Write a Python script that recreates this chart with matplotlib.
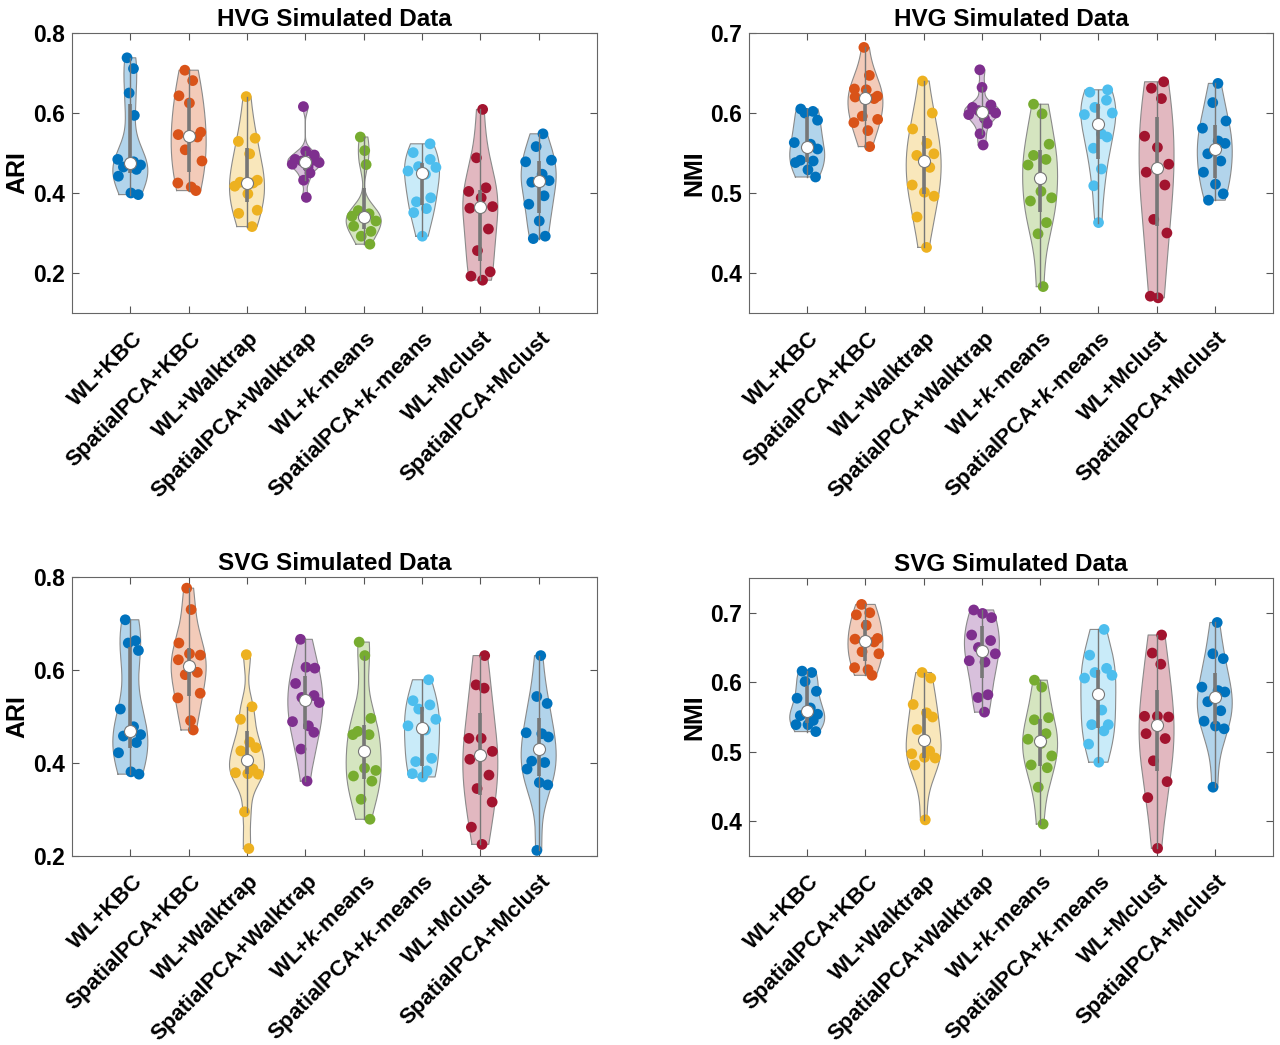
import numpy as np
import matplotlib
matplotlib.use("Agg")
import matplotlib.pyplot as plt
from matplotlib.transforms import ScaledTranslation

plt.rcParams["font.family"] = ["Liberation Sans", "DejaVu Sans"]
plt.rcParams["font.weight"] = "bold"
plt.rcParams["mathtext.fontset"] = "custom"
plt.rcParams["mathtext.bfit"] = "Liberation Sans:bold:italic"
plt.rcParams["mathtext.bf"] = "Liberation Sans:bold"

methods = ["WL+KBC", "SpatialPCA+KBC", "WL+Walktrap", "SpatialPCA+Walktrap",
           r"WL+$\mathbfit{k}$-means", r"SpatialPCA+$\mathbfit{k}$-means",
           "WL+Mclust", "SpatialPCA+Mclust"]
colors = ["#0072BD", "#D95319", "#EDB120", "#7E2F8E",
          "#77AC30", "#4DBEEE", "#A2142F", "#0072BD"]

# values, one list per method
ari_hvg = [
    [0.738, 0.711, 0.650, 0.594, 0.484, 0.478, 0.470, 0.465, 0.459, 0.442, 0.400, 0.396],
    [0.707, 0.681, 0.643, 0.625, 0.552, 0.546, 0.540, 0.508, 0.480, 0.425, 0.415, 0.406],
    [0.641, 0.537, 0.529, 0.498, 0.432, 0.427, 0.425, 0.417, 0.398, 0.357, 0.349, 0.316],
    [0.616, 0.504, 0.495, 0.484, 0.482, 0.480, 0.476, 0.472, 0.465, 0.450, 0.432, 0.389],
    [0.540, 0.506, 0.471, 0.356, 0.348, 0.342, 0.338, 0.330, 0.317, 0.304, 0.292, 0.272],
    [0.523, 0.501, 0.484, 0.466, 0.464, 0.455, 0.447, 0.388, 0.378, 0.361, 0.351, 0.292],
    [0.609, 0.488, 0.413, 0.404, 0.388, 0.366, 0.362, 0.310, 0.256, 0.203, 0.192, 0.182],
    [0.548, 0.516, 0.482, 0.478, 0.447, 0.431, 0.427, 0.393, 0.372, 0.330, 0.292, 0.286],
]
nmi_hvg = [
    [0.605, 0.602, 0.600, 0.591, 0.563, 0.561, 0.555, 0.541, 0.540, 0.538, 0.529, 0.520],
    [0.682, 0.647, 0.630, 0.629, 0.621, 0.620, 0.618, 0.596, 0.592, 0.588, 0.578, 0.558],
    [0.640, 0.600, 0.580, 0.562, 0.549, 0.547, 0.532, 0.510, 0.501, 0.496, 0.470, 0.432],
    [0.654, 0.632, 0.610, 0.607, 0.605, 0.603, 0.600, 0.598, 0.593, 0.587, 0.574, 0.560],
    [0.611, 0.599, 0.561, 0.547, 0.542, 0.535, 0.502, 0.494, 0.490, 0.463, 0.449, 0.383],
    [0.629, 0.626, 0.616, 0.607, 0.600, 0.598, 0.574, 0.570, 0.556, 0.530, 0.509, 0.463],
    [0.639, 0.631, 0.618, 0.571, 0.557, 0.536, 0.526, 0.510, 0.467, 0.450, 0.371, 0.369],
    [0.637, 0.613, 0.590, 0.581, 0.565, 0.562, 0.549, 0.540, 0.526, 0.511, 0.499, 0.491],
]
ari_svg = [
    [0.708, 0.663, 0.658, 0.642, 0.516, 0.478, 0.461, 0.458, 0.444, 0.422, 0.381, 0.376],
    [0.776, 0.730, 0.658, 0.635, 0.632, 0.622, 0.595, 0.590, 0.550, 0.540, 0.491, 0.471],
    [0.633, 0.521, 0.494, 0.445, 0.433, 0.426, 0.387, 0.379, 0.377, 0.376, 0.295, 0.216],
    [0.666, 0.606, 0.604, 0.571, 0.545, 0.541, 0.530, 0.489, 0.480, 0.466, 0.430, 0.361],
    [0.660, 0.631, 0.496, 0.468, 0.461, 0.461, 0.389, 0.384, 0.372, 0.361, 0.322, 0.279],
    [0.579, 0.534, 0.525, 0.516, 0.494, 0.480, 0.471, 0.410, 0.403, 0.383, 0.377, 0.370],
    [0.631, 0.568, 0.561, 0.453, 0.453, 0.425, 0.408, 0.374, 0.345, 0.316, 0.262, 0.225],
    [0.631, 0.543, 0.528, 0.465, 0.463, 0.456, 0.404, 0.401, 0.387, 0.358, 0.353, 0.212],
]
nmi_svg = [
    [0.616, 0.614, 0.601, 0.587, 0.577, 0.563, 0.554, 0.552, 0.545, 0.539, 0.539, 0.529],
    [0.712, 0.700, 0.697, 0.682, 0.663, 0.662, 0.658, 0.644, 0.641, 0.621, 0.618, 0.610],
    [0.614, 0.606, 0.568, 0.556, 0.550, 0.532, 0.501, 0.497, 0.492, 0.491, 0.481, 0.402],
    [0.704, 0.699, 0.693, 0.668, 0.660, 0.650, 0.641, 0.631, 0.629, 0.582, 0.578, 0.557],
    [0.603, 0.593, 0.549, 0.546, 0.526, 0.518, 0.512, 0.494, 0.481, 0.477, 0.449, 0.396],
    [0.676, 0.639, 0.620, 0.614, 0.610, 0.606, 0.560, 0.539, 0.539, 0.530, 0.511, 0.485],
    [0.668, 0.642, 0.626, 0.551, 0.551, 0.550, 0.526, 0.519, 0.487, 0.457, 0.434, 0.361],
    [0.686, 0.641, 0.634, 0.593, 0.588, 0.586, 0.572, 0.559, 0.544, 0.537, 0.533, 0.449],
]

panels = [
    (ari_hvg, "HVG Simulated Data", "ARI", (0.1, 0.8), [0.2, 0.4, 0.6, 0.8]),
    (nmi_hvg, "HVG Simulated Data", "NMI", (0.35, 0.7), [0.4, 0.5, 0.6, 0.7]),
    (ari_svg, "SVG Simulated Data", "ARI", (0.2, 0.8), [0.2, 0.4, 0.6, 0.8]),
    (nmi_svg, "SVG Simulated Data", "NMI", (0.35, 0.75), [0.4, 0.5, 0.6, 0.7]),
]

# fixed jitter pattern (fraction of local violin half-width)
JIT = np.array([-0.6, 0.5, -0.2, 0.8, -0.8, 0.2, 0.6, -0.4, 0.35, -0.7, 0.05, 0.7])
WIDTH = 0.3
GREY = "#8a8a8a"


def ksdens(x, grid):
    """MATLAB ksdensity default (normal kernel, robust Silverman bandwidth)."""
    n = len(x)
    sig = np.median(np.abs(x - np.median(x))) / 0.6745
    if sig <= 0:
        sig = np.std(x)
    bw = sig * (4 / (3 * n)) ** 0.2
    z = (grid[:, None] - x[None, :]) / bw
    return np.exp(-0.5 * z ** 2).sum(axis=1) / (n * bw * np.sqrt(2 * np.pi))


def violin(ax, pos, data, color, k):
    d = np.asarray(data, float)
    yy = np.linspace(d.min(), d.max(), 200)
    dens = ksdens(d, yy)
    hw = dens / dens.max() * WIDTH
    ax.fill_betweenx(yy, pos - hw, pos + hw, facecolor=color, alpha=0.3, lw=0, zorder=1)
    ax.plot(np.r_[pos - hw, (pos + hw)[::-1], pos - hw[0]], np.r_[yy, yy[::-1], yy[0]],
            color=GREY, lw=0.8, zorder=2)
    # data points, spread inside the violin
    jit = np.roll(JIT, k * 5)[:len(d)]
    xs = pos + jit * np.interp(d, yy, hw)
    ax.scatter(xs, d, s=60, color=color, edgecolors="none", zorder=3)
    # box: IQR bar + whiskers + median
    q1, med, q3 = np.quantile(d, [0.25, 0.5, 0.75], method="hazen")
    iqr = q3 - q1
    lo = d[d >= q1 - 1.5 * iqr].min()
    hi = d[d <= q3 + 1.5 * iqr].max()
    ax.plot([pos, pos], [lo, hi], color="#777777", lw=1.0, zorder=4)
    ax.plot([pos, pos], [q1, q3], color="#777777", lw=2.6, solid_capstyle="butt", zorder=4)
    ax.scatter([pos], [med], s=75, color="white", edgecolors="#777777", linewidths=0.8, zorder=5)


fig = plt.figure(figsize=(12.8, 10.45), dpi=100)
W, H = 1280, 1045
boxes = [(72, 33, 597, 313), (749, 33, 1273, 313), (72, 577, 597, 856), (749, 578, 1273, 856)]
shift = ScaledTranslation(9 / 100, 0, fig.dpi_scale_trans)

for (data, title, ylab, ylim, yt), (l, t, r, b) in zip(panels, boxes):
    ax = fig.add_axes([l / W, 1 - b / H, (r - l) / W, (b - t) / H])
    for k, (vals, c) in enumerate(zip(data, colors)):
        violin(ax, k + 1, vals, c, k)
    ax.set_xlim(0, 9)
    ax.set_ylim(*ylim)
    ax.set_yticks(yt)
    ax.set_yticklabels([f"{v:.1f}" for v in yt], fontsize=16.5, fontweight="bold")
    ax.set_xticks(range(1, 9))
    ax.tick_params(direction="in", length=5, width=0.8, color="#555555",
                   top=True, right=True, pad=5)
    ax.tick_params(axis="x", pad=16)
    ax.set_xticklabels(methods, rotation=45, ha="right", va="center", rotation_mode="anchor",
                       fontsize=16, fontweight="bold")
    for lab in ax.get_xticklabels():
        lab.set_transform(lab.get_transform() + shift)
    for s in ax.spines.values():
        s.set_color("#666666")
        s.set_linewidth(0.8)
    ax.set_title(title, fontsize=17.5, fontweight="bold", pad=5)
    ax.set_ylabel(ylab, fontsize=18, fontweight="bold", labelpad=3)

fig.savefig("out.png", dpi=100)
